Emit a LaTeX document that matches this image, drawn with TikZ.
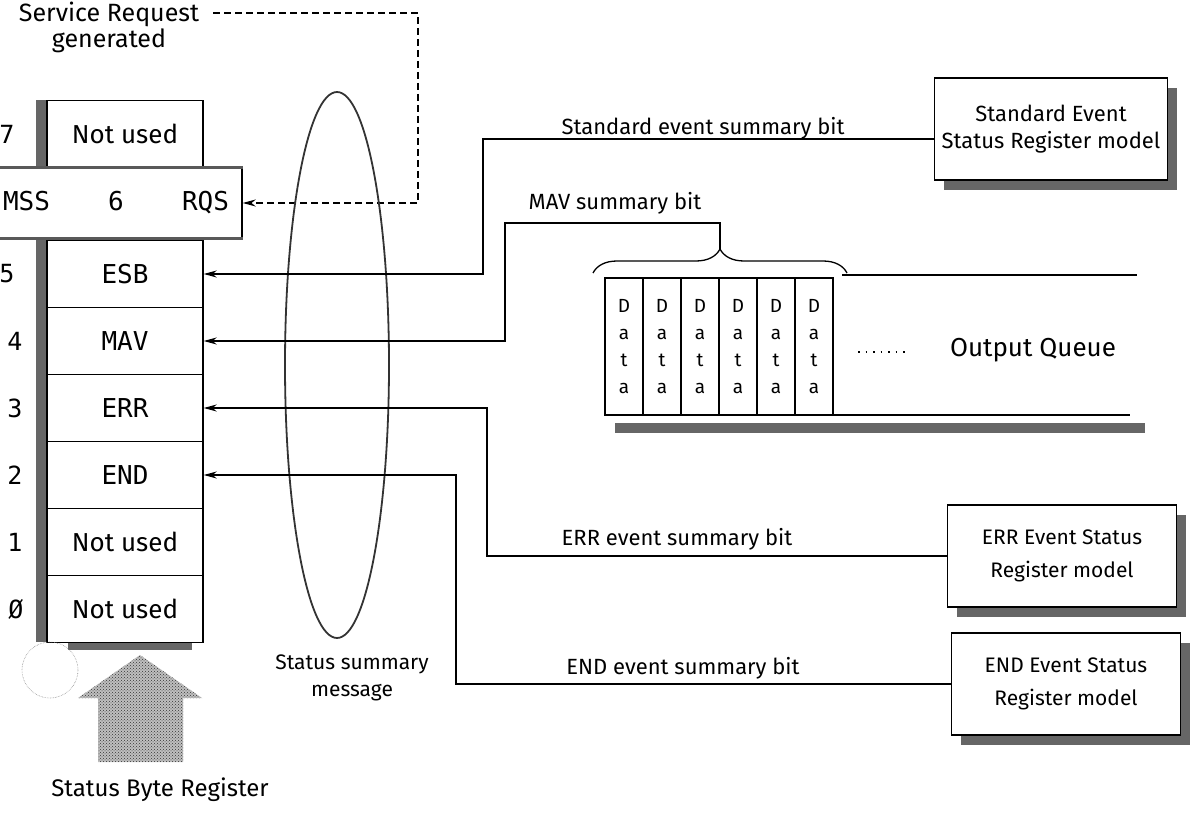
\documentclass[tikz,border=0pt]{standalone}
\usepackage{fontspec}
\setmainfont{Fira Sans}
\newfontfamily\monof{DejaVu Sans Mono}
\usetikzlibrary{shapes.geometric,decorations.pathreplacing,patterns,arrows.meta,calc,shadows}
\begin{document}
\begin{tikzpicture}[x=1pt,y=-1pt,
  lbl/.style={font=\fontsize{22}{27}\selectfont, inner sep=0pt},
  cell/.style={draw, line width=1.4pt, fill=white, minimum width=156pt, minimum height=67pt, inner sep=0pt, font=\fontsize{26}{30}\selectfont},
  mcell/.style={cell, font=\monof\fontsize{26}{30}\selectfont},
  bitno/.style={font=\monof\fontsize{25}{30}\selectfont, inner sep=0pt},
  evbox/.style={draw, line width=1.4pt, fill=white, minimum width=229pt, minimum height=102pt, align=center, inner sep=2pt,
    drop shadow={shadow xshift=9pt, shadow yshift=-10pt, fill=black!60, opacity=1}},
  conn/.style={line width=1.4pt},
  arr/.style={conn, -{Stealth[length=13pt,width=7pt]}},
  shade/.style={fill=black!60},
  datacell/.style={draw, line width=1.3pt, minimum width=38pt, minimum height=137pt, inner sep=0pt, align=center, font=\fontsize{19}{27}\selectfont}
]
\useasboundingbox (0,0) rectangle (1194,826);

% ---------- Status byte register ----------
\fill[shade] (36,100) rectangle (47,168);
\fill[shade] (36,238) rectangle (47,642);
\fill[shade] (68,641) rectangle (192,650);

\node[cell] (c7) at (125,134) {Not used};
\node[mcell, minimum width=252pt, minimum height=70pt, text width=226pt, align=left] (c6) at (116,203) {MSS\hfill 6\hfill RQS};
\draw[line width=3pt, black!65] (c6.north west) -- (c6.north east);
\draw[line width=3pt, black!65] (c6.south west) -- (c6.south east);
\node[mcell] (c5) at (125,274) {ESB};
\node[mcell] (c4) at (125,341) {MAV};
\node[mcell] (c3) at (125,408) {ERR};
\node[mcell] (c2) at (125,475) {END};
\node[cell] (c1) at (125,542) {Not used};
\node[cell] (c0) at (125,609) {Not used};

\node[bitno] (b7) at (7,134) {7};
\node[bitno] (b5) at (7,274) {5};
\node[bitno] (b4) at (15,341) {4};
\node[bitno] (b3) at (15,408) {3};
\node[bitno] (b2) at (15,475) {2};
\node[bitno] (b1) at (15,542) {1};
\node[bitno] (b0) at (16,609) {Ø};

% dotted circle and hatched arrow
\draw[densely dotted, black!45, line width=0.6pt] (50,670) circle[radius=28];
\fill[black!25] (140,655) -- (202,698) -- (183,698) -- (183,762) -- (98,762) -- (98,698) -- (78,698) -- cycle;
\fill[pattern=crosshatch dots, pattern color=black!80] (140,655) -- (202,698) -- (183,698) -- (183,762) -- (98,762) -- (98,698) -- (78,698) -- cycle;
\node[font=\fontsize{24}{28}\selectfont, inner sep=0pt] (sbr) at (160,790) {Status Byte Register};

% service request
\node[align=center, font=\fontsize{25}{26}\selectfont, inner sep=0pt] (srq) at (109,27) {Service Request\\generated};
\coordinate (ds) at (213,13);
\coordinate (j0) at (418,13);
\draw[arr, dashed, dash pattern=on 7pt off 4pt] (ds) -- (j0) |- (c6.east);

% ellipse
\node[draw, ellipse, line width=1.8pt, draw=black!80, minimum width=104pt, minimum height=546pt, inner sep=0pt] (ell) at (337,365) {};
\node[align=center, font=\fontsize{21}{27}\selectfont, inner sep=0pt] (ssm) at (352,678) {Status summary\\message};

% ---------- event boxes ----------
\node[evbox, font=\fontsize{22}{27}\selectfont, minimum width=233pt] (std) at (1051,129) {Standard Event\\Status Register model};
\node[evbox, font=\fontsize{21}{33}\selectfont] (errb) at (1062,556) {ERR Event Status\\Register model};
\node[evbox, font=\fontsize{21}{33}\selectfont] (endb) at (1066,684) {END Event Status\\Register model};

% ---------- output queue ----------
\fill[shade] (615,423) rectangle (1145,433);
\draw[conn] (842,275) -- (1137,275);
\draw[conn] (605,415) -- (1130,415);
\foreach \i/\xx in {1/624,2/662,3/700,4/738,5/776,6/814}{
  \node[datacell] (d\i) at (\xx,346.5) {D\\a\\t\\a};
}
\draw[line width=1.3pt, decorate, decoration={brace, amplitude=24pt}] (593,273) -- (847,273);
\coordinate (bt) at (720,249);
\draw[line width=1.6pt, dotted, dash pattern=on 1.5pt off 6pt] (858,352) -- (906,352);
\node[font=\fontsize{26}{30}\selectfont, inner sep=0pt] (oq) at (1033,350) {Output Queue};

% ---------- connectors ----------
\coordinate (j1) at (483,0);
\coordinate (j2) at (505,223);
\coordinate (j3) at (487,0);
\coordinate (j4) at (456,0);
\draw[arr] ($(std.west)+(0,10)$) -| (j1 |- c5.east) -- (c5.east);
\draw[arr] (bt) |- (j2) |- (c4.east);
\draw[arr] (errb.west) -| (j3 |- c3.east) -- (c3.east);
\draw[arr] (endb.west) -| (j4 |- c2.east) -- (c2.east);

\node[lbl] (l1) at (703,128) {Standard event summary bit};
\node[lbl] (l2) at (615,203) {MAV summary bit};
\node[lbl] (l3) at (677,539) {ERR event summary bit};
\node[lbl] (l4) at (683,668) {END event summary bit};
\end{tikzpicture}
\end{document}
